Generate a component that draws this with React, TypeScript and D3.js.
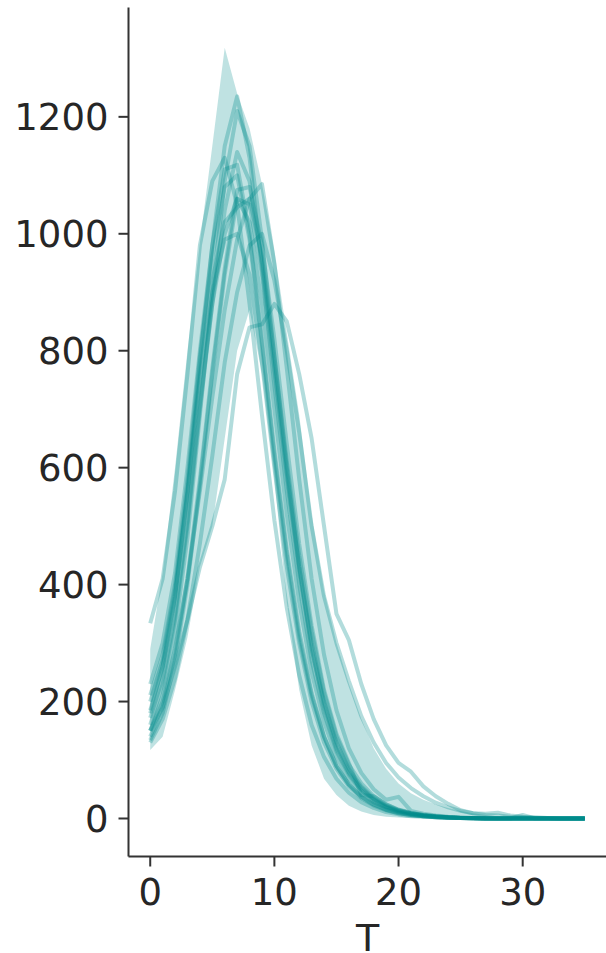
import React from "react";
import * as d3 from "d3";

// Time steps
const T: number[] = Array.from({ length: 36 }, (_, i) => i);

// Band (interval) bounds
const bandLower: number[] = [117,140,220,310,430,500,650,800,870,760,580,370,220,125,68,40,22,12,6,3,1.5,0.7,0.3,0.1,0,0,0,0,0,0,0,0,0,0,0,0];
const bandUpper: number[] = [290,420,600,800,985,1150,1318,1240,1180,1085,970,830,690,520,390,300,230,170,120,85,60,43,32,24,18,13,9,6,4,3,2,1.5,1,0.8,0.5,0.3];

// Individual trajectories
const lineA: number[] = [180,260,380,560,780,980,1150,1235,1130,940,740,560,400,270,180,115,75,48,30,19,12,8,5,3,2,1,1,0,0,0,0,0,0,0,0,0];
const lineB: number[] = [150,210,320,480,690,900,1090,1210,1150,990,790,600,430,290,190,120,78,50,32,20,13,8,5,3,2,1,1,0,0,0,0,0,0,0,0,0];
const lineC: number[] = [160,230,340,500,700,880,1040,1140,1090,950,770,590,430,300,200,130,85,55,35,22,14,9,6,4,2,1,1,0,0,0,0,0,0,0,0,0];
const lineD: number[] = [334,410,560,760,980,1090,1130,1050,880,690,510,360,245,160,105,68,44,28,18,11,7,4,3,2,1,1,0,0,0,0,0,0,0,0,0,0];
const lineE: number[] = [230,300,420,600,800,980,1110,1118,1000,820,630,460,320,215,140,90,58,37,24,15,10,6,4,2,1,1,0,0,0,0,0,0,0,0,0,0];
const lineF: number[] = [140,190,280,410,580,770,940,1075,1080,980,820,640,470,330,220,145,95,40,38,24,15,10,6,4,2,1,1,0,0,0,0,0,0,0,0,0];
const lineG: number[] = [150,200,290,410,560,720,870,990,1060,1085,950,770,580,410,280,185,120,78,50,32,37,13,8,5,3,2,1,1,0,0,0,0,0,0,0,0];
const lineH: number[] = [200,270,390,560,760,920,1020,1045,1060,960,790,610,450,320,215,140,92,60,38,24,15,9,6,4,2,1,1,0,0,0,0,0,0,0,0,0];
const lineI: number[] = [150,190,260,340,430,500,580,760,840,845,880,850,760,650,500,350,305,230,170,125,95,80,55,38,25,14,9,6,5,3,2,1,1,0,0,0];
const lineJ: number[] = [130,170,240,340,470,620,780,900,980,1000,920,800,660,500,380,300,235,175,130,95,70,52,38,27,19,13,9,8,10,5,3,2,1,0,0,0];
const lineK: number[] = [185,260,380,550,750,900,990,1000,930,780,600,430,300,200,130,85,55,35,22,14,9,6,4,2,1,1,0,0,0,0,0,0,0,0,0,0];
const lineL: number[] = [172,240,350,510,710,880,1000,1060,1020,880,700,520,370,250,165,105,68,44,28,18,11,7,4,3,2,1,1,0,0,0,6,0,0,0,0,0];
const lineM: number[] = [134,180,270,400,570,760,930,1060,1050,930,760,580,420,290,195,125,80,52,33,21,13,8,5,3,2,1,1,0,0,0,0,0,0,0,0,0];
const lineN: number[] = [211,280,400,580,790,960,1080,1100,990,810,620,450,310,210,140,90,58,37,24,15,9,6,4,2,1,1,0,0,0,0,0,0,0,0,0,0];

const trajectories: number[][] = [lineA, lineB, lineC, lineD, lineE, lineF, lineG, lineH, lineI, lineJ, lineK, lineL, lineM, lineN];

const yTicks: number[] = [0, 200, 400, 600, 800, 1000, 1200];
const xTicks: number[] = [0, 10, 20, 30];
const xLabel = "T";

const W = 606;
const H = 953;
const COLOR = "#008b8b";
const TEXT = "#262626";
const FONT = "'DejaVu Sans', sans-serif";

export default function App() {
  const left = 128.5;
  const right = 606.5;
  const top = 7.5;
  const bottom = 856.5;

  const x = d3.scaleLinear().domain([-1.75, 36.75]).range([left, right]);
  const y = d3.scaleLinear().domain([-65, 1387]).range([bottom, top]);

  const area = d3
    .area<number>()
    .x((_, i) => x(T[i]))
    .y0((_, i) => y(bandLower[i]))
    .y1((_, i) => y(bandUpper[i]));

  const line = d3
    .line<number>()
    .x((_, i) => x(T[i]))
    .y((d) => y(d));

  return (
    <svg
      width={W}
      height={H}
      style={{ position: "absolute", left: 0, top: 0, background: "#fff" }}
      fontFamily={FONT}
    >
      <rect x={0} y={0} width={W} height={H} fill="#fff" />
      <path d={area(T) || ""} fill={COLOR} fillOpacity={0.25} stroke="none" />
      {trajectories.map((tr, k) => (
        <path
          key={k}
          d={line(tr) || ""}
          fill="none"
          stroke={COLOR}
          strokeOpacity={0.3}
          strokeWidth={4}
          strokeLinejoin="round"
        />
      ))}
      {/* spines */}
      <line x1={left} x2={left} y1={top} y2={bottom} stroke="#333" strokeWidth={2} />
      <line x1={left} x2={right} y1={bottom} y2={bottom} stroke="#333" strokeWidth={2} />
      {/* y ticks */}
      {yTicks.map((t) => (
        <g key={"y" + t}>
          <line x1={left - 10} x2={left} y1={y(t)} y2={y(t)} stroke="#333" strokeWidth={2} />
          <text x={left - 20} y={y(t)} dy="0.36em" textAnchor="end" fontSize={37} fill={TEXT}>
            {t}
          </text>
        </g>
      ))}
      {/* x ticks */}
      {xTicks.map((t) => (
        <g key={"x" + t}>
          <line x1={x(t)} x2={x(t)} y1={bottom} y2={bottom + 10} stroke="#333" strokeWidth={2} />
          <text x={x(t)} y={905} textAnchor="middle" fontSize={37} fill={TEXT}>
            {t}
          </text>
        </g>
      ))}
      <text x={(left + right) / 2} y={951} textAnchor="middle" fontSize={38} fill={TEXT}>
        {xLabel}
      </text>
    </svg>
  );
}
